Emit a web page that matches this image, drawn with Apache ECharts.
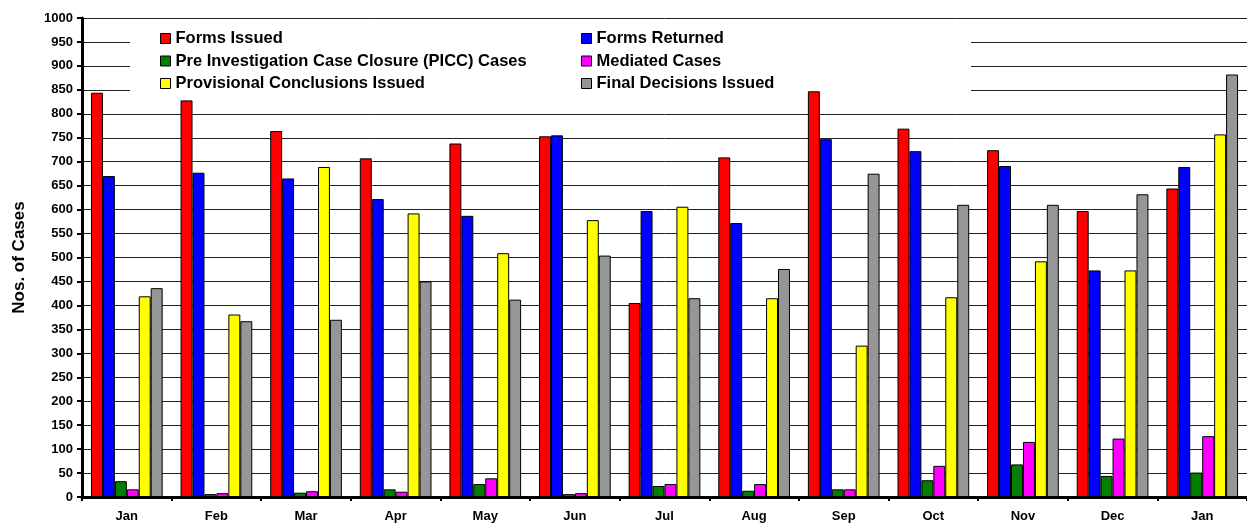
<!DOCTYPE html>
<html>
<head>
<meta charset="utf-8">
<script src="https://cdn.jsdelivr.net/npm/echarts@6/dist/echarts.min.js"></script>
<style>
  html, body { margin: 0; padding: 0; background: #fff; }
  #chart { width: 1247px; height: 523px; }
</style>
</head>
<body>
<div id="chart"></div>
<script>
const categories = ['Jan', 'Feb', 'Mar', 'Apr', 'May', 'Jun', 'Jul', 'Aug', 'Sep', 'Oct', 'Nov', 'Dec', 'Jan']

const formsIssued       = [844, 828, 764, 707, 738, 753, 405, 709, 847, 769, 724, 597, 644]
const formsReturned     = [670, 677, 665, 622, 587, 755, 597, 572, 747, 722, 691, 473, 689]
const piccCases         = [33, 6, 9, 16, 27, 6, 23, 13, 16, 35, 68, 44, 51]
const mediatedCases     = [16, 8, 12, 11, 39, 8, 27, 27, 16, 65, 115, 122, 127]
const provisionalIssued = [419, 381, 689, 592, 509, 578, 606, 415, 316, 417, 492, 473, 757]
const finalDecisions    = [436, 367, 370, 450, 412, 504, 415, 476, 675, 610, 610, 632, 882]

const FONT = '"Liberation Sans", Arial, sans-serif'

const chart = echarts.init(document.getElementById('chart'))

// one bar series per measure, black outline like the original
const bar = (name, data, color) => ({
  name, type: 'bar', data,
  barGap: '0%', barCategoryGap: '20%',
  itemStyle: { color, borderColor: '#000', borderWidth: 1 }
})

const legendBase = {
  orient: 'vertical',
  top: 25,
  icon: 'rect',
  itemWidth: 10, itemHeight: 10, itemGap: 5.5,
  itemStyle: { borderColor: '#000', borderWidth: 1 },
  textStyle: { color: '#000', fontWeight: 'bold', fontSize: 16.5, lineHeight: 16, fontFamily: FONT },
  z: 5
}

chart.setOption({
  animation: false,
  backgroundColor: '#fff',
  textStyle: { fontFamily: FONT },
  grid: { left: 82, right: -8, top: 18, bottom: 23 },
  legend: [
    Object.assign({}, legendBase, {
      left: 155,
      data: ['Forms Issued', 'Pre Investigation Case Closure (PICC) Cases', 'Provisional Conclusions Issued']
    }),
    Object.assign({}, legendBase, {
      left: 576,
      data: ['Forms Returned', 'Mediated Cases', 'Final Decisions Issued']
    })
  ],
  // white box behind the legend hides the grid lines there
  graphic: [{
    type: 'rect', left: 130, top: 26, z: 1,
    shape: { width: 841, height: 72 },
    style: { fill: '#fff' }
  }],
  xAxis: {
    type: 'category',
    data: categories,
    axisLine: { lineStyle: { color: '#000', width: 3 } },
    axisTick: { show: true, interval: 0, length: 4, lineStyle: { color: '#000', width: 2 } },
    axisLabel: { color: '#000', fontWeight: 'bold', fontSize: 13, margin: 13, interval: 0 }
  },
  yAxis: {
    type: 'value',
    min: 0, max: 1000, interval: 50,
    name: 'Nos. of Cases',
    nameLocation: 'middle',
    nameGap: 54,
    nameTextStyle: { color: '#000', fontWeight: 'bold', fontSize: 17 },
    axisLine: { show: true, lineStyle: { color: '#000', width: 3 } },
    axisTick: { show: true, length: 5, lineStyle: { color: '#000', width: 2 } },
    axisLabel: { color: '#000', fontWeight: 'bold', fontSize: 13, margin: 9, formatter: v => String(v) },
    splitLine: { lineStyle: { color: '#222', width: 1 } }
  },
  series: [
    bar('Forms Issued', formsIssued, '#ff0000'),
    bar('Forms Returned', formsReturned, '#0000ff'),
    bar('Pre Investigation Case Closure (PICC) Cases', piccCases, '#007f00'),
    bar('Mediated Cases', mediatedCases, '#ff00ff'),
    bar('Provisional Conclusions Issued', provisionalIssued, '#ffff00'),
    bar('Final Decisions Issued', finalDecisions, '#969696')
  ]
})
</script>
</body>
</html>
